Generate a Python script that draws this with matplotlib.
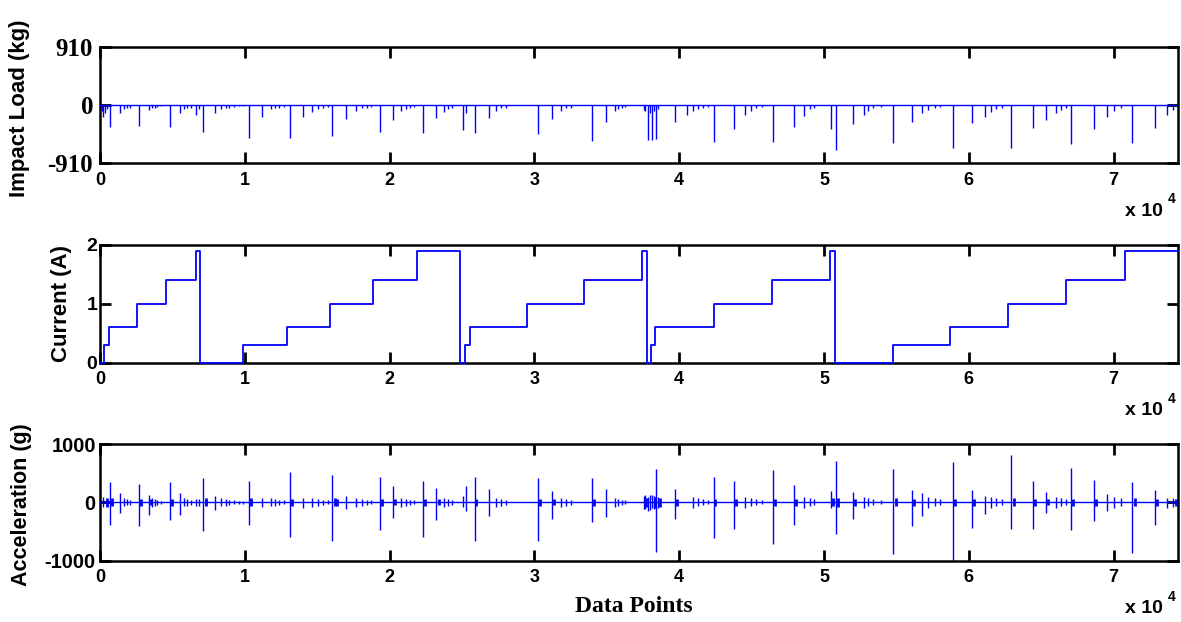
import matplotlib
matplotlib.use("Agg")
import matplotlib.pyplot as plt

# ---------------------------------------------------------------------------
# Data (x in data points)
# ---------------------------------------------------------------------------

# impact load spikes (kg)
impact_x = [120, 212, 340, 480, 661, 1349, 1667, 1878, 2063, 2672, 3386, 3571,
            3783, 3968, 4180, 4868, 5556, 5767, 6032, 6296, 6614, 6825, 7143,
            7963, 8360, 8677, 8942, 9259, 9603, 9868, 10265, 11164, 11799,
            12063, 12381, 12698, 13095, 14048, 14630, 15026, 15423, 15767,
            16032, 17011, 17672, 18069, 18413, 18730, 19312, 20238, 20794,
            21111, 21429, 21720, 22302, 23228, 23757, 24021, 24286, 25079,
            25291, 25873, 26878, 27381, 27725, 28042, 30238, 31217, 31825,
            32169, 32540, 33950, 34960, 35544, 35756, 36021, 36286, 37560,
            37666, 37825, 37958, 38143, 38276, 38408, 38541, 39735, 40531,
            40981, 41326, 41645, 41989, 42387, 43793, 44562, 44960, 45305,
            45703, 46499, 47905, 48621, 49019, 49337, 50477, 50796, 52016,
            52732, 53050, 53395, 53926, 54801, 56048, 56790, 57188, 57639,
            58037, 58912, 60212, 61088, 61539, 61883, 62281, 62944, 64403,
            65332, 65995, 66393, 66737, 67056, 68647, 69576, 70027, 70504,
            71300, 72891, 73687, 74085, 74430]
impact_val = [-90, -180, -120, -60, -340, -130, -60, -50, -40, -322, -78, -50,
              -40, -30, -20, -343, -120, -60, -50, -40, -156, -60, -416,
              -130, -60, -50, -40, -30, -20, -15, -510, -192, -70,
              -50, -40, -30, -510, -180, -110, -60, -40, -30,
              -478, -224, -90, -50, -40, -25, -421, -234, -90,
              -55, -40, -30, -442, -208, -110, -60, -40, -390,
              -120, -442, -208, -90, -50, -40, -458, -224, -90,
              -50, -40, -556, -260, -90, -60, -40, -30, -80,
              -90, -546, -120, -546, -100, -530, -60, -260, -160,
              -90, -60, -40, -25, -572, -380, -160, -90, -50,
              -35, -572, -338, -170, -70, -40, -370, -700, -296,
              -160, -90, -50, -30, -588, -270, -130, -80, -50,
              -30, -676, -280, -180, -110, -70, -40, -676, -364,
              -234, -130, -80, -50, -608, -380, -180, -90, -50,
              -588, -364, -150, -80, -40]

# coil current steps (A)
current_x = [0, 260, 610, 2540, 4580, 6610, 6880, 9890, 12910, 15870, 18860,
             21900, 24890, 25210, 25530, 29520, 33430, 37430, 37800, 38040,
             38360, 42390, 46420, 50420, 50740, 54750, 58700, 62680, 66740,
             70770, 74450]
current_val = [0, 0.3, 0.6, 1.0, 1.4, 1.9, 0, 0.3, 0.6, 1.0, 1.4,
               1.9, 0, 0.3, 0.6, 1.0, 1.4, 1.9, 0, 0.3,
               0.6, 1.0, 1.4, 1.9, 0, 0.3, 0.6, 1.0, 1.4,
               1.9, 1.9]

# acceleration spikes (g): peak up / peak down
accel_x = [200, 661, 1349, 2672, 3386, 4868, 5556, 6614, 7143, 7963, 10265,
           11164, 13095, 14048, 16032, 17011, 19312, 20238, 22302, 23228,
           25079, 25291, 25873, 26878, 30238, 31217, 33950, 34960, 37825,
           38143, 38408, 39735, 42387, 43793, 46499, 47905, 50477, 50796,
           52016, 54801, 56048, 56790, 58912, 60212, 61088, 62944, 64403,
           65332, 67056, 68647, 69576, 71300, 72891, 73687]
accel_hi = [90, 343, 160, 320, 131, 343, 160, 63, 417, 103, 360,
            74, 514, 74, 474, 114, 434, 274, 360, 246,
            103, 274, 434, 229, 417, 188, 410, 223, 100,
            120, 566, 234, 440, 366, 549, 291, 194, 709,
            177, 566, 211, 166, 691, 211, 103, 806, 366,
            177, 583, 377, 137, 349, 206, 80]
accel_lo = [-80, -383, -183, -411, -211, -297, -211, -69, -486, -126, -383,
            -80, -600, -97, -669, -114, -469, -269, -594, -297,
            -80, -150, -669, -240, -669, -286, -340, -246, -150,
            -100, -851, -291, -606, -463, -720, -394, -100, -537,
            -280, -880, -406, -234, -1050, -434, -206, -463, -451,
            -189, -480, -320, -149, -863, -394, -90]

# small ringing after impacts (g, symmetric)
ring_x = [1667, 1878, 2063, 3571, 3783, 3968, 4180, 5767, 6032, 6296, 6825,
          8360, 8677, 8942, 9259, 9603, 9868, 11799, 12063, 12381, 12698,
          14630, 15026, 15423, 15767, 17672, 18069, 18413, 18730, 20794,
          21111, 21429, 21720, 23757, 24021, 24286, 27381, 27725, 28042,
          31825, 32169, 32540, 35544, 35756, 36021, 36286, 37560, 37666,
          37958, 38276, 38541, 40981, 41326, 41645, 41989, 44562, 44960,
          45305, 45703, 48621, 49019, 49337, 52732, 53050, 53395, 53926,
          57188, 57639, 58037, 61539, 61883, 62281, 65995, 66393, 66737,
          70027, 70504, 74085, 74430]
ring_amp = [70, 50, 40, 80, 60, 45, 30, 70, 55, 45, 60,
            70, 55, 45, 35, 30, 25, 70, 55, 45, 35,
            80, 60, 45, 35, 80, 60, 45, 35, 80,
            60, 45, 35, 80, 60, 45, 80, 60, 45,
            80, 60, 45, 80, 60, 45, 35, 110, 120,
            130, 110, 90, 90, 70, 50, 35, 90, 70,
            50, 35, 90, 70, 50, 90, 70, 50, 35,
            90, 70, 50, 90, 70, 50, 90, 70, 50,
            90, 70, 80, 60]

# dense bursts right after the main hits (g, symmetric)
burst_x = [450, 800, 2800, 3500, 5000, 7300, 10400, 13250, 16200, 16400,
           19450, 20400, 22450, 23380, 26000, 30380, 31350, 34100, 37700,
           38300, 38650, 39850, 42500, 43900, 46600, 48050, 50600, 50950,
           52150, 54950, 56200, 59050, 60350, 63100, 64550, 65450, 67200,
           68800, 71450, 73000, 74300]
burst_amp = [80, 70, 60, 50, 60, 70, 70, 60, 70, 60,
             60, 50, 60, 50, 60, 60, 50, 60, 80,
             90, 80, 60, 60, 60, 60, 60, 70, 80,
             60, 70, 60, 60, 60, 70, 60, 50, 60,
             60, 70, 60, 60]

x_ticks = [0, 10000, 20000, 30000, 40000, 50000, 60000, 70000]
x_ticklabels = ["0", "1", "2", "3", "4", "5", "6", "7"]
x_max = 74450

# ---------------------------------------------------------------------------
# Figure
# ---------------------------------------------------------------------------

SANS = "Liberation Sans"
SERIF = "Liberation Serif"
BLUE = "#0000ff"

fig = plt.figure(figsize=(11.81, 6.22), dpi=100)
left, width = 100 / 1181, 1078 / 1181
ax1 = fig.add_axes([left, 1 - 163.3 / 622, width, 116.6 / 622])
ax2 = fig.add_axes([left, 1 - 362.7 / 622, width, 117.7 / 622])
ax3 = fig.add_axes([left, 1 - 560.7 / 622, width, 116.7 / 622])

# impact load
ax1.axhline(0, color=BLUE, lw=1.0, zorder=2)
ax1.vlines(impact_x, impact_val, 0, color=BLUE, lw=1.0, zorder=2)
ax1.set_ylim(-910, 910)
ax1.set_yticks([-910, 0, 910])
ax1.set_yticklabels(["-910", "0", "910"], family=SERIF, weight="bold",
                    fontsize=18)

# current (drawn over the frame so the zero level stays visible)
ax2.step(current_x, current_val, where="post", color=BLUE, lw=1.3,
         zorder=5, clip_on=False)
ax2.set_ylim(0, 2)
ax2.set_yticks([0, 1, 2])
ax2.set_yticklabels(["0", "1", "2"], family=SANS, weight="bold", fontsize=14)

# acceleration
ax3.axhline(0, color=BLUE, lw=1.0, zorder=2)
ax3.vlines(burst_x, [-a for a in burst_amp], burst_amp, color=BLUE, lw=2.0,
           zorder=2)
ax3.vlines(ring_x, [-a for a in ring_amp], ring_amp, color=BLUE, lw=1.0,
           zorder=2)
ax3.vlines(accel_x, accel_lo, accel_hi, color=BLUE, lw=1.0, zorder=2)
ax3.set_ylim(-1000, 1000)
ax3.set_yticks([-1000, 0, 1000])
ax3.set_yticklabels(["-1000", "0", "1000"], family=SANS, weight="bold",
                    fontsize=14.5)

ypads = {ax1: 5, ax2: 2, ax3: 3}
for ax in (ax1, ax2, ax3):
    ax.set_xlim(0, x_max)
    ax.set_xticks(x_ticks)
    ax.set_xticklabels(x_ticklabels, family=SANS, weight="bold", fontsize=13)
    ax.tick_params(direction="in", top=True, right=True, length=8, width=2,
                   colors="black")
    ax.tick_params(axis="x", pad=6)
    ax.tick_params(axis="y", pad=ypads[ax])
    for s in ax.spines.values():
        s.set_linewidth(1.8)
        s.set_zorder(1)
    ax.text(0.951, -0.41, "x 10", transform=ax.transAxes, family=SANS,
            weight="bold", fontsize=14, ha="left", va="center")
    ax.text(0.9905, -0.31, "4", transform=ax.transAxes, family=SANS,
            weight="bold", fontsize=10, ha="left", va="center")

fig.text(20 / 1181, 1 - 108 / 622, "Impact Load (kg)", rotation=90,
         family=SANS, weight="bold", fontsize=16, ha="center", va="center")
fig.text(62 / 1181, 1 - 303 / 622, "Current (A)", rotation=90,
         family=SANS, weight="bold", fontsize=16, ha="center", va="center")
fig.text(22 / 1181, 1 - 505 / 622, "Acceleration (g)", rotation=90,
         family=SANS, weight="bold", fontsize=15.5, ha="center", va="center")
fig.text(634 / 1181, 1 - 607 / 622, "Data Points", family=SERIF,
         weight="bold", fontsize=17, ha="center", va="center")

fig.savefig("out.png", dpi=100, facecolor="white")
